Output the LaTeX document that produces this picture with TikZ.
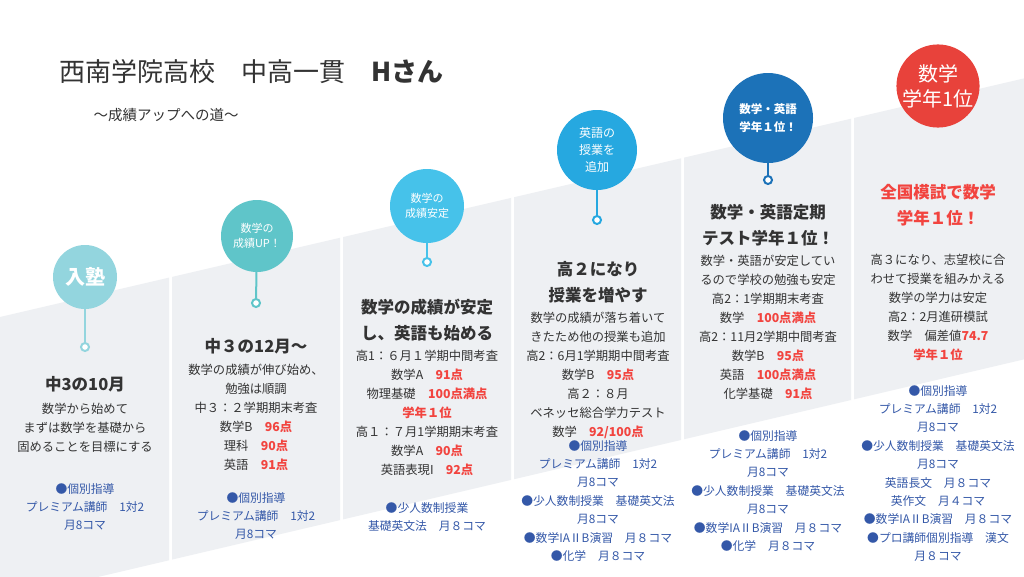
\documentclass[tikz,border=0pt]{standalone}
\usepackage{fontspec}
\setmainfont{Noto Sans CJK JP}
\usetikzlibrary{calc}
\definecolor{band}{HTML}{EEF0F3}
\definecolor{txt}{HTML}{333333}
\definecolor{hi}{HTML}{F2443F}
\definecolor{bl}{HTML}{3458A8}
\definecolor{c1}{HTML}{93D5DE}
\definecolor{c2}{HTML}{5FC5C9}
\definecolor{c3}{HTML}{46C2EA}
\definecolor{c4}{HTML}{26A8E0}
\definecolor{c5}{HTML}{1C72B8}
\definecolor{c6}{HTML}{E8423B}
\newcommand{\R}[1]{\textcolor{hi}{\textbf{#1}}}
\tikzset{
 head/.style={anchor=north,align=center,text=txt,font=\bfseries\fontsize{16.5}{26}\selectfont,inner sep=0pt},
 body/.style={anchor=north,align=center,text=txt,font=\fontsize{12.3}{19}\selectfont,inner sep=0pt},
 blue/.style={anchor=north,align=center,text=bl,font=\fontsize{11.8}{18.4}\selectfont,inner sep=0pt},
 bubble/.style={circle,inner sep=0pt,align=center,text=white,font=\fontsize{11}{15}\selectfont},
 stem/.style={line width=2pt},
 ring/.style={circle,draw,line width=2pt,fill=white,minimum size=8pt,inner sep=0pt}
}
\begin{document}
\begin{tikzpicture}[x=1pt,y=-1pt]
\useasboundingbox (0,0) rectangle (1024,576);
\fill[white] (0,0) rectangle (1024,576);
\foreach \a/\b in {0/169,172/340,343/511,514/681,684/851,854/1024}{
 \fill[band] (\a,{317-0.233*\a}) -- (\b,{317-0.233*\b}) -- (\b,{600-0.235*\b}) -- (\a,{600-0.235*\a}) -- cycle;}
\node[anchor=west,text=txt,font=\fontsize{26}{28}\selectfont] (title) at (56,72) {西南学院高校　中高一貫　\textbf{Hさん}};
\node[anchor=west,text=txt,font=\fontsize{14.5}{16}\selectfont] (sub) at (90,115) {〜成績アップへの道〜};
% bubbles
\node[bubble,fill=c1,minimum size=64pt,font=\bfseries\fontsize{20}{22}\selectfont] (b1) at (85,277) {入塾};
\node[ring,draw=c1] (r1) at (85,347) {};
\draw[stem,c1] (b1) -- (r1);
\node[bubble,fill=c2,minimum size=72pt] (b2) at (257,236) {数学の\\成績UP！};
\node[ring,draw=c2] (r2) at (256,303) {};
\draw[stem,c2] (b2) -- (r2);
\node[bubble,fill=c3,minimum size=74pt] (b3) at (427,206) {数学の\\成績安定};
\node[ring,draw=c3] (r3) at (427,262) {};
\draw[stem,c3] (b3) -- (r3);
\node[bubble,fill=c4,minimum size=80pt,font=\fontsize{12}{17}\selectfont] (b4) at (597,150) {英語の\\授業を\\追加};
\node[ring,draw=c4] (r4) at (597,220) {};
\draw[stem,c4] (b4) -- (r4);
\node[bubble,fill=c5,minimum size=90pt,font=\bfseries\fontsize{11.5}{18}\selectfont] (b5) at (768,118) {数学・英語\\学年１位！};
\node[ring,draw=c5] (r5) at (768,180) {};
\draw[stem,c5] (b5) -- (r5);
\node[bubble,fill=c6,minimum size=76pt,font=\fontsize{20}{25}\selectfont] (b6) at (938,86) {数学\\学年1位};
% column 1
\node[head] (h1) at (85,376) {中3の10月};
\node[body] (t1) at (85,403) {数学から始めて\\まずは数学を基礎から\\固めることを目標にする};
\node[blue] (u1) at (85,483) {●個別指導\\プレミアム講師　1対2\\月8コマ};
% column 2
\node[head] (h2) at (256,338) {中３の12月〜};
\node[body] (t2) at (256,364) {数学の成績が伸び始め、\\勉強は順調\\中３：２学期期末考査\\数学B　\R{96点}\\理科　\R{90点}\\英語　\R{91点}};
\node[blue] (u2) at (256,492) {●個別指導\\プレミアム講師　1対2\\月8コマ};
% column 3
\node[head] (h3) at (427,299) {数学の成績が安定\\し、英語も始める};
\node[body] (t3) at (427,350) {高1：６月１学期中間考査\\数学A　\R{91点}\\物理基礎　\R{100点満点}\\\R{学年１位}\\高１：７月1学期期末考査\\数学A　\R{90点}\\英語表現I　\R{92点}};
\node[blue] (u3) at (427,502) {●少人数制授業\\基礎英文法　月８コマ};
% column 4
\node[head] (h4) at (598,261) {高２になり\\授業を増やす};
\node[body] (t4) at (598,312) {数学の成績が落ち着いて\\きたため他の授業も追加\\高2：6月1学期期中間考査\\数学B　\R{95点}\\高２：８月\\ベネッセ総合学力テスト\\数学　\R{92/100点}};
\node[blue] (u4) at (598,440) {●個別指導\\プレミアム講師　1対2\\月8コマ\\●少人数制授業　基礎英文法\\月8コマ\\●数学IAⅡB演習　月８コマ\\●化学　月８コマ};
% column 5
\node[head] (h5) at (768,204) {数学・英語定期\\テスト学年１位！};
\node[body] (t5) at (768,255) {数学・英語が安定してい\\るので学校の勉強も安定\\高2：1学期期末考査\\数学　\R{100点満点}\\高2：11月2学期中間考査\\数学B　\R{95点}\\英語　\R{100点満点}\\化学基礎　\R{91点}};
\node[blue] (u5) at (768,430) {●個別指導\\プレミアム講師　1対2\\月8コマ\\●少人数制授業　基礎英文法\\月8コマ\\●数学IAⅡB演習　月８コマ\\●化学　月８コマ};
% column 6
\node[head,text=hi] (h6) at (938,184) {全国模試で数学\\学年１位！};
\node[body] (t6) at (938,254) {高３になり、志望校に合\\わせて授業を組みかえる\\数学の学力は安定\\高2：2月進研模試\\数学　偏差値\R{74.7}\\\R{学年１位}};
\node[blue] (u6) at (938,385) {●個別指導\\プレミアム講師　1対2\\月8コマ\\●少人数制授業　基礎英文法\\月8コマ\\英語長文　月８コマ\\英作文　月４コマ\\●数学IAⅡB演習　月８コマ\\●プロ講師個別指導　漢文\\月８コマ};
\end{tikzpicture}
\end{document}
